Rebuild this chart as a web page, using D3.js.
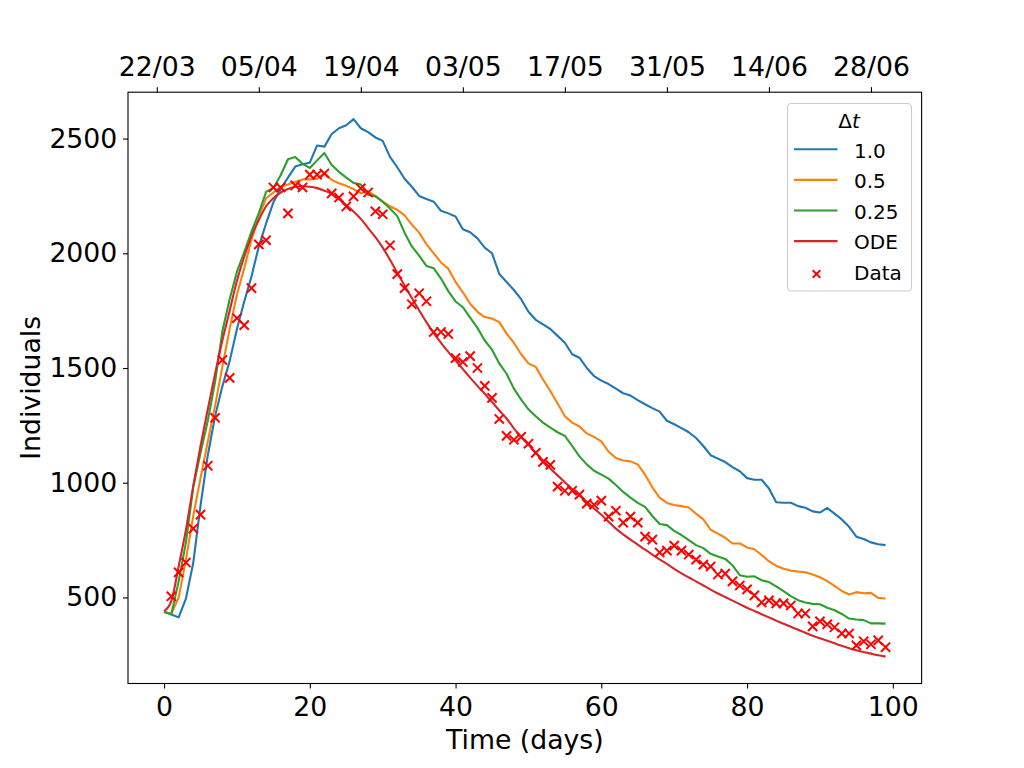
<!DOCTYPE html>
<html>
<head>
<meta charset="utf-8">
<script src="https://cdn.jsdelivr.net/npm/d3@7"></script>
<style>
  body { margin: 0; background: #fff; }
  #svg-container { width: 1024px; height: 768px; }
  svg { font-family: "DejaVu Sans", sans-serif; }
</style>
</head>
<body>
<div id="svg-container"></div>
<script>
// simulated runs (one value per day, day 0..99)
var days = d3.range(0, 100);

var dt1 = [439, 426, 413, 495, 650, 900, 1120, 1290, 1420, 1530,
  1670, 1790, 1900, 2030, 2130, 2222, 2280, 2330, 2378, 2388,
  2395, 2470, 2465, 2520, 2545, 2558, 2585, 2545, 2528, 2505,
  2490, 2420, 2375, 2325, 2290, 2250, 2237, 2225, 2185, 2174,
  2160, 2105, 2092, 2065, 2025, 2000, 1910, 1875, 1840, 1800,
  1745, 1710, 1690, 1670, 1640, 1610, 1560, 1545, 1500, 1465,
  1445, 1430, 1410, 1390, 1380, 1360, 1342, 1325, 1310, 1270,
  1255, 1238, 1220, 1195, 1160, 1120, 1105, 1090, 1068, 1050,
  1020, 1013, 1013, 975, 915, 913, 913, 898, 891, 875,
  870, 890, 865, 840, 808, 765, 755, 740, 732, 728];

var dt05 = [439, 428, 500, 665, 855, 1020, 1180, 1335, 1506, 1670,
  1820, 1935, 2060, 2160, 2240, 2265, 2290, 2300, 2312, 2322,
  2322, 2325, 2350, 2320, 2305, 2294, 2280, 2262, 2270, 2250,
  2225, 2205, 2190, 2165, 2125, 2090, 2040, 2000, 1960, 1933,
  1875, 1830, 1780, 1745, 1722, 1716, 1700, 1650, 1610, 1560,
  1520, 1505, 1450, 1400, 1345, 1290, 1262, 1245, 1215, 1200,
  1180, 1135, 1108, 1097, 1093, 1080, 1035, 980, 935, 912,
  903, 898, 892, 865, 840, 795, 778, 760, 735, 735,
  718, 710, 685, 658, 638, 625, 617, 613, 610, 600,
  588, 571, 550, 528, 513, 523, 518, 520, 498, 495];

var dt025 = [435, 428, 570, 740, 980, 1129, 1270, 1440, 1660, 1800,
  1920, 2005, 2095, 2175, 2268, 2285, 2340, 2410, 2420, 2390,
  2372, 2405, 2437, 2385, 2355, 2330, 2307, 2300, 2255, 2248,
  2225, 2195, 2162, 2090, 2030, 1990, 1945, 1935, 1890, 1835,
  1790, 1765, 1720, 1675, 1620, 1580, 1520, 1475, 1410, 1362,
  1320, 1290, 1262, 1240, 1220, 1204, 1160, 1115, 1080, 1052,
  1035, 1018, 990, 960, 935, 912, 895, 855, 820, 815,
  790, 772, 750, 728, 715, 690, 678, 668, 640, 597,
  590, 592, 575, 567, 548, 527, 506, 488, 478, 472,
  470, 455, 444, 428, 408, 404, 401, 387, 387, 386];

var ode = [440, 485, 635, 795, 985, 1160, 1320, 1475, 1620, 1750,
  1880, 1985, 2075, 2145, 2205, 2240, 2265, 2280, 2290, 2292,
  2290, 2284, 2273, 2259, 2236, 2210, 2182, 2150, 2110, 2070,
  2025, 1972, 1915, 1860, 1805, 1752, 1700, 1652, 1610, 1570,
  1532, 1495, 1458, 1422, 1388, 1352, 1315, 1280, 1237, 1200,
  1165, 1130, 1097, 1062, 1032, 1002, 972, 945, 917, 888,
  860, 830, 800, 775, 752, 730, 708, 687, 666, 646,
  625, 605, 587, 570, 552, 534, 517, 502, 486, 471,
  455, 441, 427, 413, 399, 385, 372, 359, 346, 333,
  322, 311, 300, 289, 279, 270, 262, 255, 248, 242];

// observed cases, day 1..99
var dataDays = d3.range(1, 100);
var observed = [505, 609, 652, 800, 861, 1074, 1283, 1535, 1457,
  1717, 1687, 1848, 2039, 2057, 2287, 2287, 2174, 2296, 2287,
  2343, 2343, 2348, 2261, 2243, 2204, 2248, 2283, 2265, 2183,
  2170, 2035, 1909, 1848, 1778, 1826, 1791, 1657, 1657, 1648,
  1543, 1526, 1552, 1500, 1422, 1370, 1278, 1204, 1187, 1200,
  1170, 1130, 1091, 1078, 983, 965, 965, 948, 909, 904,
  922, 852, 878, 826, 852, 826, 765, 752, 696, 704,
  726, 704, 687, 665, 643, 635, 600, 604, 570, 552,
  535, 509, 478, 487, 474, 474, 465, 430, 430, 374,
  396, 383, 370, 343, 343, 291, 309, 296, 313, 283];

var seriesNames = ["1.0", "0.5", "0.25", "ODE"];
var seriesColors = ["#1f77b4", "#ff7f0e", "#2ca02c", "#d62728"];

var xTicks = [0, 20, 40, 60, 80, 100];
var yTicks = [500, 1000, 1500, 2000, 2500];
var dateTickDays = [-1, 13, 27, 41, 55, 69, 83, 97];
var dateTickLabels = ["22/03", "05/04", "19/04", "03/05", "17/05", "31/05", "14/06", "28/06"];

var width = 1024, height = 768;
var plot = { left: 128, right: 921.6, top: 92.2, bottom: 683.5 };
var tickFont = "26.7px";

var svg = d3.select("#svg-container")
            .append("svg")
            .attr("width", width)
            .attr("height", height);

// matplotlib style 5% margins
var allValues = dt1.concat(dt05, dt025, ode, observed);
var yExt = d3.extent(allValues);
var yPad = (yExt[1] - yExt[0]) * 0.05;

var scaleX = d3.scaleLinear()
               .domain([-4.95, 103.95])
               .range([plot.left, plot.right]);

var scaleY = d3.scaleLinear()
               .domain([yExt[0] - yPad, yExt[1] + yPad])
               .range([plot.bottom, plot.top]);

svg.append("defs").append("clipPath").attr("id", "clip")
   .append("rect")
   .attr("x", plot.left).attr("y", plot.top)
   .attr("width", plot.right - plot.left)
   .attr("height", plot.bottom - plot.top);

var lineGen = d3.line()
                .x(function(d) { return scaleX(d.day); })
                .y(function(d) { return scaleY(d.v); });

var smoothGen = d3.line()
                  .curve(d3.curveMonotoneX)
                  .x(function(d) { return scaleX(d.day); })
                  .y(function(d) { return scaleY(d.v); });

function toPoints(values) {
  return values.map(function(v, i) { return { day: days[i], v: v }; });
}

function drawLine(values, color, gen) {
  svg.append("path")
     .datum(toPoints(values))
     .attr("clip-path", "url(#clip)")
     .attr("fill", "none")
     .attr("stroke", color)
     .attr("stroke-width", 2.1)
     .attr("stroke-linejoin", "round")
     .attr("d", gen);
}

drawLine(dt1, seriesColors[0], lineGen);
drawLine(dt05, seriesColors[1], lineGen);
drawLine(dt025, seriesColors[2], lineGen);
drawLine(ode, seriesColors[3], smoothGen);

var crossPath = "M-4.6,-4.6L4.6,4.6M-4.6,4.6L4.6,-4.6";

svg.append("g")
   .selectAll("path")
   .data(observed.map(function(v, i) { return { day: dataDays[i], v: v }; }))
   .enter()
   .append("path")
   .attr("d", crossPath)
   .attr("transform", function(d) { return "translate(" + scaleX(d.day) + "," + scaleY(d.v) + ")"; })
   .attr("stroke", "#ff0000")
   .attr("stroke-width", 2);

// axes
var xAxis = svg.append("g")
   .attr("transform", "translate(0," + plot.bottom + ")")
   .call(d3.axisBottom(scaleX).tickValues(xTicks).tickFormat(d3.format("d"))
           .tickSize(5).tickSizeOuter(0).tickPadding(8.5));

var yAxis = svg.append("g")
   .attr("transform", "translate(" + plot.left + ",0)")
   .call(d3.axisLeft(scaleY).tickValues(yTicks).tickFormat(d3.format("d"))
           .tickSize(5).tickSizeOuter(0).tickPadding(5.7));

var topAxis = svg.append("g")
   .attr("transform", "translate(0," + plot.top + ")")
   .call(d3.axisTop(scaleX).tickValues(dateTickDays)
           .tickFormat(function(d, i) { return dateTickLabels[i]; })
           .tickSize(5).tickSizeOuter(0).tickPadding(11.2));

[xAxis, yAxis, topAxis].forEach(function(ax) {
  ax.select(".domain").remove();
  ax.selectAll("line").attr("stroke", "#000").attr("stroke-width", 1.1);
  ax.selectAll("text")
    .attr("fill", "#000")
    .style("font-family", "DejaVu Sans")
    .style("font-size", tickFont);
});

svg.append("rect")
   .attr("x", plot.left)
   .attr("y", plot.top)
   .attr("width", plot.right - plot.left)
   .attr("height", plot.bottom - plot.top)
   .attr("fill", "none")
   .attr("stroke", "#000")
   .attr("stroke-width", 1.1);

svg.append("text")
   .attr("x", (plot.left + plot.right) / 2)
   .attr("y", 749)
   .attr("text-anchor", "middle")
   .style("font-size", tickFont)
   .text("Time (days)");

svg.append("text")
   .attr("transform", "translate(40," + (plot.top + plot.bottom) / 2 + ") rotate(-90)")
   .attr("text-anchor", "middle")
   .style("font-size", tickFont)
   .text("Individuals");

// legend
var legend = svg.append("g");

legend.append("rect")
      .attr("x", 787.5).attr("y", 103.5)
      .attr("width", 124).attr("height", 187.5)
      .attr("rx", 4)
      .attr("fill", "#fff").attr("fill-opacity", 0.8)
      .attr("stroke", "#cccccc").attr("stroke-width", 1.1);

var title = legend.append("text")
      .attr("x", 849).attr("y", 127.7)
      .attr("text-anchor", "middle")
      .style("font-size", "20px");
title.append("tspan").text("Δ");
title.append("tspan").style("font-style", "italic").text("t");

seriesNames.forEach(function(name, i) {
  var yy = 149.3 + i * 30.6;
  legend.append("line")
        .attr("x1", 794).attr("x2", 837.5)
        .attr("y1", yy).attr("y2", yy)
        .attr("stroke", seriesColors[i])
        .attr("stroke-width", 2.1);
  legend.append("text")
        .attr("x", 854).attr("y", yy + 8.2)
        .style("font-size", "20px")
        .text(name);
});

legend.append("path")
      .attr("d", "M-3.8,-3.8L3.8,3.8M-3.8,3.8L3.8,-3.8")
      .attr("transform", "translate(816.5,274)")
      .attr("stroke", "#ff0000")
      .attr("stroke-width", 2);

legend.append("text")
      .attr("x", 854).attr("y", 149.3 + 4 * 30.6 + 8.2)
      .style("font-size", "20px")
      .text("Data");
</script>
</body>
</html>
